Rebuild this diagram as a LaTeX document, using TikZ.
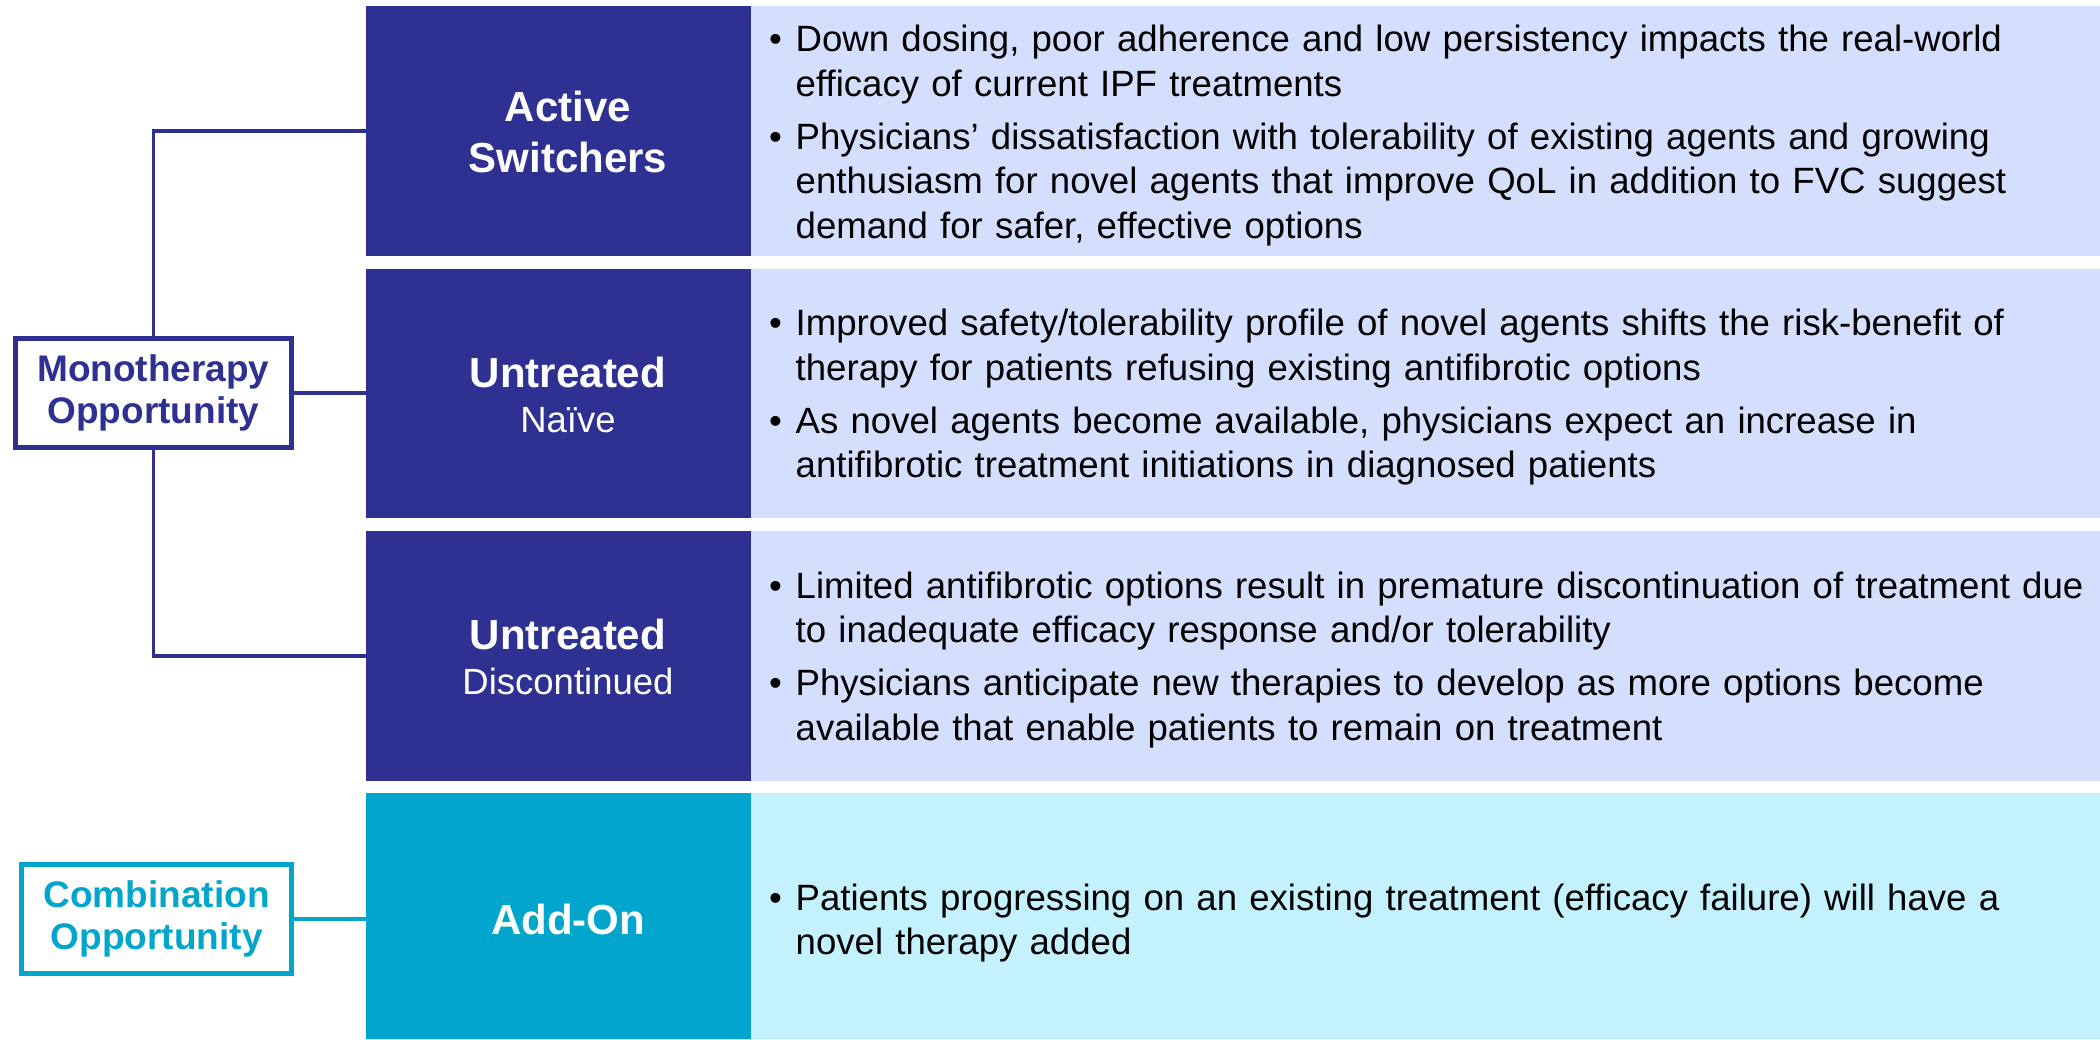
\documentclass[tikz,border=0pt]{standalone}
\usepackage{fontspec}
\setmainfont{Liberation Sans}
\definecolor{navy}{HTML}{2E3192}
\definecolor{lav}{HTML}{D4DEFD}
\definecolor{teal}{HTML}{02A6CC}
\definecolor{cyanlt}{HTML}{C3F1FE}
% bullet paragraph with hanging indent
\newcommand{\bpoint}[1]{\noindent\hangindent=26.5pt\hangafter=1\makebox[26.5pt][l]{\textbullet}#1\par}
\begin{document}
\begin{tikzpicture}[x=1pt,y=-1pt,
  catbox/.style={draw=none, anchor=north west, inner sep=0pt, outer sep=0pt, minimum width=385},
  panel/.style={draw=none, anchor=north west, inner sep=0pt, outer sep=0pt, minimum width=1349},
  cattext/.style={anchor=base, inner sep=0pt, text width=380, align=center, text=white},
  bultext/.style={anchor=base west, inner sep=0pt, text width=1330, text=black,
    font=\fontsize{36.6}{44.5}\selectfont},
  oppbox/.style={draw, line width=5pt, fill=white, inner sep=0pt, align=center,
    font=\fontsize{37}{42}\selectfont\bfseries},
  navyline/.style={draw=navy, line width=3.5pt},
  tealline/.style={draw=teal, line width=4pt}]
\useasboundingbox (0,0) rectangle (2100,1039);

% category boxes and description panels
\node[catbox, fill=navy, minimum height=249.5] (act) at (366,6) {};
\node[panel, fill=lav, minimum height=249.5] (actP) at (751,6) {};
\node[catbox, fill=navy, minimum height=249] (naive) at (366,269) {};
\node[panel, fill=lav, minimum height=249] (naiveP) at (751,269) {};
\node[catbox, fill=navy, minimum height=249.6] (disc) at (366,531) {};
\node[panel, fill=lav, minimum height=249.6] (discP) at (751,531) {};
\node[catbox, fill=teal, minimum height=245.6] (addon) at (366,793.4) {};
\node[panel, fill=cyanlt, minimum height=245.6] (addonP) at (751,793.4) {};

% category labels
\node[cattext, font=\fontsize{42}{51}\selectfont\bfseries] (actL) at (568,121) {Active\\Switchers};
\node[cattext, font=\fontsize{42}{44.6}\selectfont\bfseries] (naiveL) at (568,387.4)
  {Untreated\\{\fontsize{36.5}{44.6}\selectfont\mdseries Naïve}};
\node[cattext, font=\fontsize{42}{44.6}\selectfont\bfseries] (discL) at (568,649.8)
  {Untreated\\{\fontsize{36.5}{44.6}\selectfont\mdseries Discontinued}};
\node[cattext, font=\fontsize{42}{44.6}\selectfont\bfseries] (addonL) at (568,934.6) {Add-On};

% opportunity boxes
\node[oppbox, draw=navy, text=navy, minimum width=276.2, minimum height=109] (mono) at (153.4,393)
  {Monotherapy\\Opportunity};
\node[oppbox, draw=teal, text=teal, minimum width=269.6, minimum height=109.5] (comb) at (156.7,918.8)
  {Combination\\Opportunity};

% connectors
\draw[navyline] (mono.north) |- (act.west);
\draw[navyline] (mono.south) |- (disc.west);
\draw[navyline] (mono.east) -- (mono.east -| naive.west);
\draw[tealline] (comb.east) -- (comb.east -| addon.west);

% descriptions
\node[bultext] (actT) at (769,51.7) {%
\bpoint{Down dosing, poor adherence and low persistency impacts the real-world\newline efficacy of current IPF treatments}%
\vspace{8.5pt}%
\bpoint{Physicians’ dissatisfaction with tolerability of existing agents and growing\newline enthusiasm for novel agents that improve QoL in addition to FVC suggest\newline demand for safer, effective options}};
\node[bultext] (naiveT) at (769,335.7) {%
\bpoint{Improved safety/tolerability profile of novel agents shifts the risk-benefit of\newline therapy for patients refusing existing antifibrotic options}%
\vspace{8.5pt}%
\bpoint{As novel agents become available, physicians expect an increase in\newline antifibrotic treatment initiations in diagnosed patients}};
\node[bultext] (discT) at (769,598) {%
\bpoint{Limited antifibrotic options result in premature discontinuation of treatment due\newline to inadequate efficacy response and/or tolerability}%
\vspace{8.5pt}%
\bpoint{Physicians anticipate new therapies to develop as more options become\newline available that enable patients to remain on treatment}};
\node[bultext] (addonT) at (769,910) {%
\bpoint{Patients progressing on an existing treatment (efficacy failure) will have a\newline novel therapy added}};
\end{tikzpicture}
\end{document}
